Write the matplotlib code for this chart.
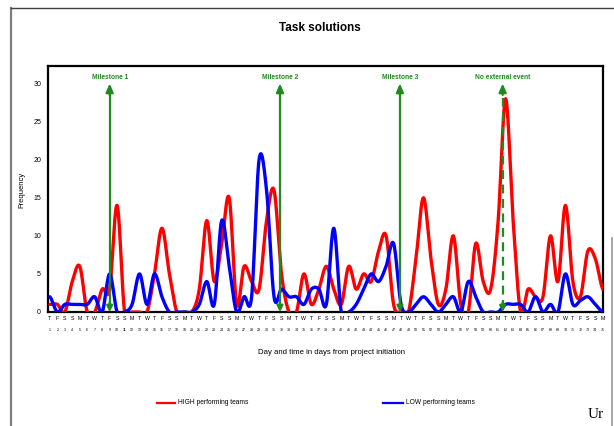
import numpy as np
import matplotlib
matplotlib.use("Agg")
import matplotlib.pyplot as plt
from matplotlib.lines import Line2D

plt.rcParams['font.family'] = ['Liberation Sans', 'DejaVu Sans']

# ---------------- data ----------------
title = "Task solutions"
xlabel = "Day and time in days from project initiation"
ylabel = "Frequency"
series_names = ["HIGH performing teams", "LOW performing teams"]

day_letters_cycle = ['T', 'F', 'S', 'S', 'M', 'T', 'W']
n_days = 75
day_letters = [day_letters_cycle[i % 7] for i in range(n_days)]
day_numbers = [str(i + 1) for i in range(n_days)]

high = [1, 1, 0, 4, 6, 0, 0, 3, 3, 14,
        0, 0, 0, 0, 5, 11, 5, 0, 0, 0,
        3, 12, 4, 9, 15, 1, 6, 4, 3, 12,
        16, 5, 0, 0, 5, 1, 3, 6, 3, 1,
        6, 3, 5, 4, 8, 10, 1, 0, 0, 7,
        15, 7, 1, 3, 10, 1, 0, 9, 4, 3,
        12, 28, 12, 0, 3, 2, 2, 10, 4, 14,
        4, 2, 8, 7, 3]
low = [2, 0, 1, 1, 1, 1, 2, 0, 5, 0,
       0, 1, 5, 1, 5, 2, 0, 0, 0, 0,
       1, 4, 1, 12, 6, 0, 2, 2, 20, 16,
       2, 3, 2, 2, 1, 3, 3, 1, 11, 0,
       0, 1, 3, 5, 4, 6, 9, 1, 0, 1,
       2, 1, 0, 1, 2, 0, 4, 2, 0, 0,
       0, 1, 1, 1, 0, 2, 0, 1, 0, 5,
       1, 1.5, 2, 1, 0]

milestone_labels = ["Milestone 1", "Milestone 2", "Milestone 3", "No external event"]
milestone_pos = [8.0, 30.8, 46.85, 60.6]
milestone_dashed = [False, False, False, True]
yticks = [0, 5, 10, 15, 20, 25, 30]

# ---------------- helpers ----------------
W, H = 614, 426


def fx(px):
    return px / W


def fy(py):
    return 1 - py / H


def smooth(y, n=16):
    y = np.asarray(y, dtype=float)
    p = np.concatenate([[y[0]], y, [y[-1]]])
    xs, ys = [], []
    t = np.linspace(0, 1, n, endpoint=False)
    for i in range(len(y) - 1):
        p0, p1, p2, p3 = p[i], p[i + 1], p[i + 2], p[i + 3]
        c1 = p1 + (p2 - p0) / 6
        c2 = p2 - (p3 - p1) / 6
        b = (1 - t) ** 3 * p1 + 3 * (1 - t) ** 2 * t * c1 + 3 * (1 - t) * t ** 2 * c2 + t ** 3 * p2
        xs.append(i + t)
        ys.append(b)
    xs.append([len(y) - 1])
    ys.append([y[-1]])
    return np.concatenate(xs), np.concatenate(ys)


# ---------------- figure ----------------
fig = plt.figure(figsize=(W / 100, H / 100), dpi=100)
fig.patch.set_facecolor('white')

# outer chart frame
fig.add_artist(Line2D([fx(11), fx(11)], [fy(8), fy(426)], color='#7f7f7f', lw=1.6))
fig.add_artist(Line2D([fx(11), fx(614)], [fy(8), fy(8)], color='#404040', lw=1.0))
fig.add_artist(Line2D([fx(612), fx(612)], [fy(238), fy(426)], color='#9a9a9a', lw=1.2))

ax = fig.add_axes([fx(48), fy(312), fx(603) - fx(48), fy(66) - fy(312)])
x = np.arange(n_days)

xs, ys = smooth(high)
ax.plot(xs, ys, color='#ff0000', lw=2.4, solid_capstyle='round', zorder=3)
xs, ys = smooth(low)
ax.plot(xs, ys, color='#0000ff', lw=2.4, solid_capstyle='round', zorder=4)

ax.set_xlim(-0.25, n_days - 1 + 0.03)
ax.set_ylim(0, 32.3)
ax.set_yticks(yticks)
ax.set_yticklabels([str(v) for v in yticks], fontsize=5)
ax.set_xticks(x)
ax.set_xticklabels(day_letters, fontsize=3.8)
ax.tick_params(axis='x', length=0, pad=3)
ax.tick_params(axis='y', length=0, pad=5)
for s in ax.spines.values():
    s.set_linewidth(1.6)
    s.set_color('black')

trans = ax.get_xaxis_transform()
for xi, lab in zip(x, day_numbers):
    ax.text(xi, -0.065, lab, transform=trans, fontsize=2.6, ha='center', va='top', clip_on=False)

# milestones
green = '#1f8a1f'
for pos, lab, dashed in zip(milestone_pos, milestone_labels, milestone_dashed):
    ax.plot([pos, pos], [0.4, 29.4], color=green, lw=1.6,
            ls=(0, (4, 2.5)) if dashed else '-', zorder=5)
    ax.annotate('', xy=(pos, 30), xytext=(pos, 28.5),
                arrowprops=dict(arrowstyle='-|>,head_length=0.5,head_width=0.22',
                                color=green, lw=1.6, shrinkA=0, shrinkB=0), zorder=6)
    ax.annotate('', xy=(pos, 0), xytext=(pos, 1.3),
                arrowprops=dict(arrowstyle='-|>,head_length=0.35,head_width=0.18',
                                color=green, lw=1.6, shrinkA=0, shrinkB=0), zorder=6)
    ax.text(pos, 30.8, lab, color=green, fontsize=4.8, fontweight='bold',
            ha='center', va='center', zorder=7,
            bbox=dict(facecolor='white', edgecolor='none', pad=0.5) if dashed else None)

# labels and title
fig.text(fx(320), fy(28), title, fontsize=8.5, fontweight='bold', ha='center', va='center')
fig.text(fx(22), fy(190), ylabel, fontsize=5.5, rotation=90, ha='center', va='center')
fig.text(fx(332), fy(353), xlabel, fontsize=5.6, ha='center', va='center')

# legend
fig.add_artist(Line2D([fx(157), fx(175)], [fy(403), fy(403)], color='#ff0000', lw=1.6))
fig.text(fx(178), fy(403), series_names[0], fontsize=4.8, ha='left', va='center')
fig.add_artist(Line2D([fx(383), fx(403)], [fy(403), fy(403)], color='#0000ff', lw=1.6))
fig.text(fx(406), fy(403), series_names[1], fontsize=4.8, ha='left', va='center')

# document text partly visible at bottom right
fig.text(fx(588), fy(415), "Ur", fontsize=11, family=['Liberation Serif', 'DejaVu Serif'],
         ha='left', va='center')

fig.savefig("out.png", dpi=100)
